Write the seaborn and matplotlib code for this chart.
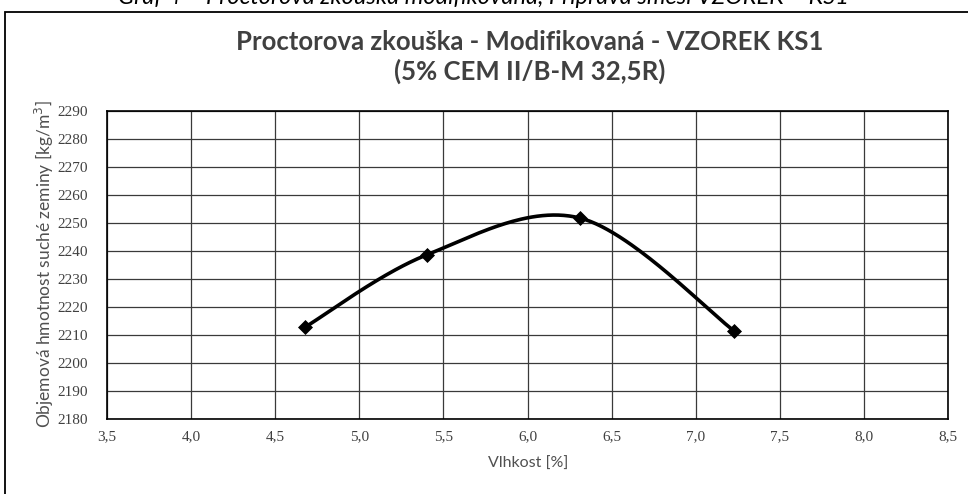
"""
Proctor test chart - modified, sample KS1
"""

import numpy as np
import pandas as pd
import matplotlib
matplotlib.use("Agg")
import matplotlib.pyplot as plt
import seaborn as sns

moisture = [4.68, 5.40, 6.31, 7.23]
dry_density = [2212.9, 2238.6, 2251.8, 2211.4]

x_ticks = [3.5, 4.0, 4.5, 5.0, 5.5, 6.0, 6.5, 7.0, 7.5, 8.0, 8.5]
y_ticks = [2180, 2190, 2200, 2210, 2220, 2230, 2240, 2250, 2260, 2270, 2280, 2290]

title_text = "Proctorova zkouška - Modifikovaná - VZOREK KS1\n(5% CEM II/B-M 32,5R)"
caption_text = "Graf 4 – Proctorova zkouška modifikovaná, Příprava směsi VZOREK – KS1"
x_label = "Vlhkost [%]"
y_label = "Objemová hmotnost suché zeminy [kg/m$^3$]"


def smooth_line(xs, ys, n=60):
    """Excel-like smoothed line (Catmull-Rom Bezier through the points)"""
    pts = np.column_stack([xs, ys]).astype(float)
    padded = np.vstack([pts[0], pts, pts[-1]])
    out = []
    t = np.linspace(0, 1, n)[:, None]
    for i in range(1, len(padded) - 2):
        p0, p1, p2, p3 = padded[i - 1], padded[i], padded[i + 1], padded[i + 2]
        b1 = p1 + (p2 - p0) / 6
        b2 = p2 - (p3 - p1) / 6
        seg = ((1 - t) ** 3) * p1 + 3 * ((1 - t) ** 2) * t * b1 + 3 * (1 - t) * t ** 2 * b2 + t ** 3 * p2
        out.append(seg if i == 1 else seg[1:])
    out = np.vstack(out)
    return pd.DataFrame({"x": out[:, 0], "y": out[:, 1]})


sns.set_theme(style="white")
plt.rcParams['font.family'] = ['Lato', 'DejaVu Sans']

fig = plt.figure(figsize=(9.68, 4.94), dpi=100)
ax = fig.add_axes([107 / 968, 1 - 419 / 494, 841 / 968, 308 / 494])

curve = smooth_line(moisture, dry_density)
sns.lineplot(data=curve, x="x", y="y", sort=False, color="black", linewidth=2.6, ax=ax)
sns.scatterplot(x=moisture, y=dry_density, marker="D", s=50, color="black",
                edgecolor="black", zorder=5, ax=ax)

ax.set_xlim(3.5, 8.5)
ax.set_ylim(2180, 2290)
ax.set_xticks(x_ticks)
ax.set_yticks(y_ticks)
ax.set_xticklabels([f"{v:.1f}".replace(".", ",") for v in x_ticks],
                   family="Liberation Serif", fontsize=11, color="#404040")
ax.set_yticklabels([str(v) for v in y_ticks],
                   family="Liberation Serif", fontsize=11, color="#404040")
ax.tick_params(axis="x", length=0, pad=8)
ax.tick_params(axis="y", length=0, pad=14)

ax.grid(True, color="#3a3a3a", linewidth=0.9)
for side in ax.spines.values():
    side.set_color("black")
    side.set_linewidth(1.2)

ax.set_xlabel("")
ax.set_ylabel("")
fig.text(528 / 968, 1 - 464 / 494, x_label, ha="center", va="center",
         fontsize=11.5, color="#505050")
fig.text(44 / 968, 1 - 264 / 494, y_label, ha="center", va="center",
         rotation=90, fontsize=12.5, color="#505050")

# Title, two lines
fig.text(530 / 968, 1 - 57 / 494, title_text, ha="center", va="center",
         fontsize=18.5, weight="bold", color="#404040", linespacing=1.25)

# Frame around the chart and the cut-off caption above it
fig.patches.append(plt.Rectangle((5 / 968, -0.05), 2.0, 1 - 12 / 494 + 0.05,
                                 transform=fig.transFigure, fill=False,
                                 edgecolor="black", linewidth=1.3))
fig.text(0.5, 1 + 3 / 494, caption_text, ha="center", va="center",
         fontsize=17, style="italic", color="black")

fig.savefig("out.png", dpi=100)
plt.close(fig)
